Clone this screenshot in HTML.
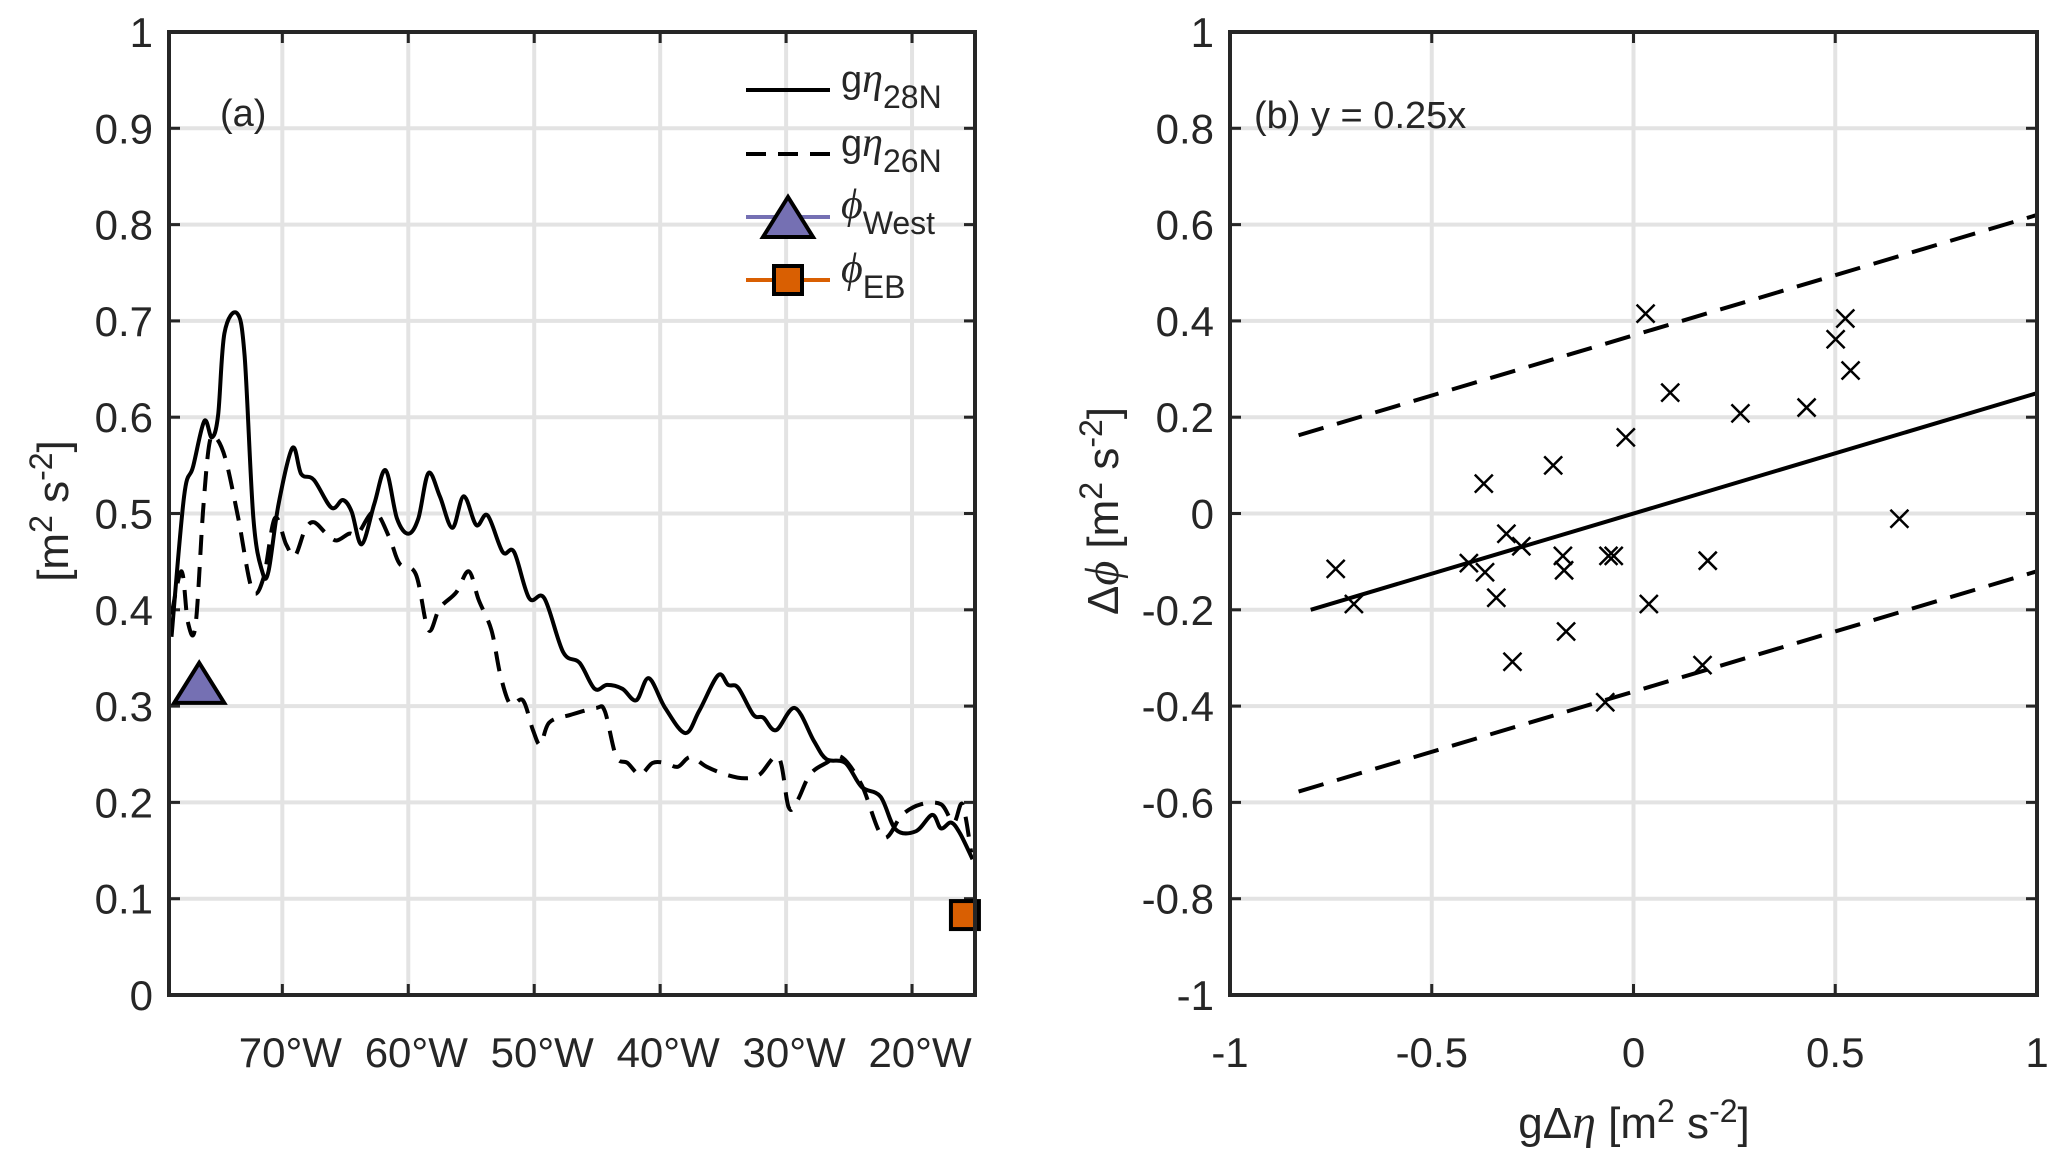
<!DOCTYPE html>
<html><head><meta charset="utf-8"><style>
html,body{margin:0;padding:0;background:#fff}
svg{display:block}
text{font-family:"Liberation Sans",sans-serif;fill:#262626}
</style></head><body>
<svg id="fig" width="2067" height="1162" viewBox="0 0 2067 1162" xmlns="http://www.w3.org/2000/svg">
<g id="pa"></g>
<g id="pb"></g>
</svg>
<script>
// Panel (a) data
const lonSolid=[-78.8,-77.8,-77.1,-76.2,-75.6,-75.1,-74.6,-73.6,-73.0,-72.3,-71.6,-71.1,-70.3,-69.2,-68.5,-67.5,-66.1,-65.2,-64.5,-63.7,-62.7,-61.8,-60.9,-60,-59.2,-58.4,-57.5,-56.5,-55.6,-54.6,-53.7,-52.5,-51.6,-50.4,-49.2,-47.7,-46.4,-45.2,-44.2,-43,-41.9,-40.9,-39.6,-38,-36.9,-35.4,-34.6,-33.8,-32.6,-31.8,-30.8,-29.3,-27.8,-26.8,-25.3,-24,-22.5,-21.3,-19.7,-18.4,-17.7,-16.9,-16.2,-15.2];
const valSolid=[0.372,0.518,0.548,0.596,0.579,0.602,0.687,0.708,0.664,0.495,0.44,0.44,0.51,0.568,0.541,0.535,0.506,0.514,0.502,0.468,0.51,0.545,0.495,0.479,0.495,0.542,0.518,0.485,0.518,0.488,0.498,0.46,0.46,0.412,0.412,0.356,0.345,0.318,0.322,0.318,0.306,0.329,0.298,0.272,0.295,0.332,0.322,0.319,0.291,0.288,0.275,0.298,0.264,0.245,0.241,0.216,0.206,0.172,0.17,0.187,0.173,0.179,0.168,0.141];
const lonDash=[-78.8,-78.0,-77.5,-76.9,-76.3,-75.8,-75.3,-74.5,-73.5,-72.4,-71.5,-70.6,-69.7,-69.0,-68.2,-67.5,-66.5,-65.7,-64.7,-64,-62.7,-61.5,-60.7,-59.4,-58.4,-57.5,-56.2,-55.2,-54.4,-53.4,-52.7,-51.9,-50.9,-50.1,-49.5,-48.8,-47.1,-45.1,-44.4,-43.5,-42.6,-41.6,-40.6,-39.6,-38.6,-37.6,-36.3,-34.8,-33.3,-32.1,-30.6,-29.8,-29.1,-28.1,-26.8,-25.6,-24,-22.3,-20.8,-19.3,-17.7,-16.7,-16,-15.3];
const valDash=[0.395,0.44,0.387,0.383,0.502,0.572,0.579,0.556,0.495,0.421,0.433,0.495,0.468,0.456,0.483,0.491,0.479,0.472,0.479,0.479,0.502,0.475,0.448,0.437,0.379,0.402,0.418,0.44,0.41,0.379,0.333,0.302,0.306,0.275,0.26,0.283,0.291,0.298,0.295,0.248,0.241,0.229,0.241,0.241,0.237,0.247,0.237,0.229,0.225,0.229,0.247,0.195,0.202,0.229,0.241,0.247,0.218,0.164,0.187,0.198,0.198,0.179,0.198,0.148];
const westMarker=[-76.6,0.32];
const ebMarker=[-15.8,0.083];
const aYTicks=[0,0.1,0.2,0.3,0.4,0.5,0.6,0.7,0.8,0.9,1];
const aYLabels=["0","0.1","0.2","0.3","0.4","0.5","0.6","0.7","0.8","0.9","1"];
const aXTicks=[-70,-60,-50,-40,-30,-20];
const aXLabels=["70°W","60°W","50°W","40°W","30°W","20°W"];
// Panel (b) data
const ptX=[0.030,0.501,0.525,0.538,0.091,0.265,0.429,-0.019,-0.199,-0.371,0.659,-0.738,-0.693,-0.408,-0.368,-0.315,-0.278,-0.340,-0.175,-0.172,-0.167,-0.300,-0.062,-0.049,0.038,0.184,0.171,-0.070];
const ptY=[0.415,0.362,0.405,0.297,0.251,0.208,0.22,0.158,0.1,0.062,-0.011,-0.115,-0.188,-0.103,-0.122,-0.042,-0.068,-0.175,-0.088,-0.118,-0.245,-0.308,-0.088,-0.088,-0.188,-0.098,-0.315,-0.392];
const fitSlope=0.25, fitBand=0.37;
const fitRange=[-0.8,1], bandRange=[-0.83,1];
const bTicksX=[-1,-0.5,0,0.5,1], bLabelsX=["-1","-0.5","0","0.5","1"];
const bTicksY=[-1,-0.8,-0.6,-0.4,-0.2,0,0.2,0.4,0.6,0.8,1];
const bLabelsY=["-1","-0.8","-0.6","-0.4","-0.2","0","0.2","0.4","0.6","0.8","1"];

const NS="http://www.w3.org/2000/svg";
function mk(p,t,a){const e=document.createElementNS(NS,t);for(const k in a)e.setAttribute(k,a[k]);p.appendChild(e);return e;}
const AX="#262626",GR="#e3e3e3",TF=42;

// ---------- Panel A ----------
const pa=document.getElementById('pa');
const A={x0:169,x1:975,y0:995,y1:32,lo:-79,hi:-15};
const ax=v=>A.x0+(v-A.lo)/(A.hi-A.lo)*(A.x1-A.x0);
const ay=v=>A.y0-v*(A.y0-A.y1);
aYTicks.forEach((t,i)=>{
 const g=mk(pa,'line',{x1:A.x0,x2:A.x1,y1:ay(t),y2:ay(t),stroke:GR,'stroke-width':4});
 
 
 const tx=mk(pa,'text',{x:A.x0-16,y:ay(t)+15,'font-size':TF,'text-anchor':'end'});
 tx.textContent=aYLabels[i];
 
 
 mk(pa,'line',{x1:A.x0,x2:A.x0+11,y1:ay(t),y2:ay(t),stroke:AX,'stroke-width':3});
 mk(pa,'line',{x1:A.x1,x2:A.x1-11,y1:ay(t),y2:ay(t),stroke:AX,'stroke-width':3});
});
aXTicks.forEach((t,i)=>{
 const g=mk(pa,'line',{x1:ax(t),x2:ax(t),y1:A.y0,y2:A.y1,stroke:GR,'stroke-width':4});
 
 
 const tx=mk(pa,'text',{x:ax(t)+8,y:1067,'font-size':TF,'text-anchor':'middle'});
 tx.textContent=aXLabels[i];
 
 
 mk(pa,'line',{x1:ax(t),x2:ax(t),y1:A.y0,y2:A.y0-11,stroke:AX,'stroke-width':3});
 mk(pa,'line',{x1:ax(t),x2:ax(t),y1:A.y1,y2:A.y1+11,stroke:AX,'stroke-width':3});
});
function smoothPath(xs,ys,fx,fy){
 const P=xs.map((x,i)=>[fx(x),fy(ys[i])]);
 let d='M'+P[0][0].toFixed(1)+','+P[0][1].toFixed(1);
 for(let i=0;i<P.length-1;i++){
  const p0=P[i-1]||P[i],p1=P[i],p2=P[i+1],p3=P[i+2]||P[i+1];
  const c1=[p1[0]+(p2[0]-p0[0])/6,p1[1]+(p2[1]-p0[1])/6];
  const c2=[p2[0]-(p3[0]-p1[0])/6,p2[1]-(p3[1]-p1[1])/6];
  d+=`C${c1[0].toFixed(1)},${c1[1].toFixed(1)} ${c2[0].toFixed(1)},${c2[1].toFixed(1)} ${p2[0].toFixed(1)},${p2[1].toFixed(1)}`;
 }
 return d;
}
const sl=mk(pa,'path',{d:smoothPath(lonSolid,valSolid,ax,ay),fill:'none',stroke:'#000','stroke-width':4,'stroke-linejoin':'round'});


const dl=mk(pa,'path',{d:smoothPath(lonDash,valDash,ax,ay),fill:'none',stroke:'#000','stroke-width':4,'stroke-dasharray':'20 12'});


function tri(p,cx,cy){return mk(p,'polygon',{points:`${cx},${cy-24} ${cx-25},${cy+16} ${cx+25},${cy+16}`,fill:'#7570b3',stroke:'#000','stroke-width':4,'stroke-linejoin':'miter'});}
function sq(p,cx,cy){return mk(p,'rect',{x:cx-14,y:cy-14,width:28,height:28,fill:'#d95f02',stroke:'#000','stroke-width':4});}
const wm=tri(pa,ax(westMarker[0]),ay(westMarker[1]));


const em=sq(pa,ax(ebMarker[0]),ay(ebMarker[1]));


const ba=mk(pa,'rect',{x:A.x0,y:A.y1,width:A.x1-A.x0,height:A.y0-A.y1,fill:'none',stroke:AX,'stroke-width':4});



// legend
const lg=mk(pa,'g',{});


mk(lg,'line',{x1:746,x2:830,y1:90,y2:90,stroke:'#000','stroke-width':4});
mk(lg,'line',{x1:746,x2:830,y1:154,y2:154,stroke:'#000','stroke-width':4,'stroke-dasharray':'20 12'});
mk(lg,'line',{x1:746,x2:830,y1:217,y2:217,stroke:'#7570b3','stroke-width':4});
tri(lg,788,221);
mk(lg,'line',{x1:746,x2:830,y1:280,y2:280,stroke:'#d95f02','stroke-width':4});
sq(lg,788,280);
const labs=[['g','η','28N',100],['g','η','26N',164],['','ϕ','West',226],['','ϕ','EB',290]];
labs.forEach(l=>{
 const t=mk(lg,'text',{x:841,y:l[3]-8,'font-size':38});
 t.innerHTML=`${l[0]}<tspan font-family="Liberation Serif" font-style="italic" font-size="42">${l[1]}</tspan><tspan dy="16" font-size="32">${l[2]}</tspan>`;
 
 
});
const ta=mk(pa,'text',{x:220,y:126,'font-size':38});ta.textContent='(a)';


const yl=mk(pa,'text',{x:0,y:0,'font-size':44,'text-anchor':'middle',transform:'translate(68,511) rotate(-90)'});
yl.innerHTML='[m<tspan dy="-16" font-size="32">2</tspan><tspan dy="16"> s</tspan><tspan dy="-16" font-size="32">-2</tspan><tspan dy="16">]</tspan>';



// ---------- Panel B ----------
const pb=document.getElementById('pb');
const B={x0:1230,x1:2037,y0:995,y1:32};
const bx=v=>B.x0+(v+1)/2*(B.x1-B.x0);
const by=v=>B.y0-(v+1)/2*(B.y0-B.y1);
bTicksY.forEach((t,i)=>{
 const g=mk(pb,'line',{x1:B.x0,x2:B.x1,y1:by(t),y2:by(t),stroke:GR,'stroke-width':4});
 
 
 const tx=mk(pb,'text',{x:B.x0-16,y:by(t)+15,'font-size':TF,'text-anchor':'end'});
 tx.textContent=bLabelsY[i];
 
 
 mk(pb,'line',{x1:B.x0,x2:B.x0+11,y1:by(t),y2:by(t),stroke:AX,'stroke-width':3});
 mk(pb,'line',{x1:B.x1,x2:B.x1-11,y1:by(t),y2:by(t),stroke:AX,'stroke-width':3});
});
bTicksX.forEach((t,i)=>{
 const g=mk(pb,'line',{x1:bx(t),x2:bx(t),y1:B.y0,y2:B.y1,stroke:GR,'stroke-width':4});
 
 
 const tx=mk(pb,'text',{x:bx(t),y:1067,'font-size':TF,'text-anchor':'middle'});
 tx.textContent=bLabelsX[i];
 
 
 mk(pb,'line',{x1:bx(t),x2:bx(t),y1:B.y0,y2:B.y0-11,stroke:AX,'stroke-width':3});
 mk(pb,'line',{x1:bx(t),x2:bx(t),y1:B.y1,y2:B.y1+11,stroke:AX,'stroke-width':3});
});
const fl=mk(pb,'line',{x1:bx(fitRange[0]),y1:by(fitSlope*fitRange[0]),x2:bx(fitRange[1]),y2:by(fitSlope*fitRange[1]),stroke:'#000','stroke-width':4});


[fitBand,-fitBand].forEach(o=>{
 const d=mk(pb,'line',{x1:bx(bandRange[0]),y1:by(fitSlope*bandRange[0]+o),x2:bx(bandRange[1]),y2:by(fitSlope*bandRange[1]+o),stroke:'#000','stroke-width':4,'stroke-dasharray':'26 14'});
 
 
});
ptX.forEach((x,i)=>{
 const cx=bx(x),cy=by(ptY[i]),s=9;
 const p=mk(pb,'path',{d:`M${cx-s},${cy-s}L${cx+s},${cy+s}M${cx-s},${cy+s}L${cx+s},${cy-s}`,stroke:'#000','stroke-width':2.5,fill:'none'});
 
 
});
const bb=mk(pb,'rect',{x:B.x0,y:B.y1,width:B.x1-B.x0,height:B.y0-B.y1,fill:'none',stroke:AX,'stroke-width':4});


const tb=mk(pb,'text',{x:1254,y:128,'font-size':38});tb.textContent='(b) y = 0.25x';


const ylb=mk(pb,'text',{x:0,y:0,'font-size':44,'text-anchor':'middle',transform:'translate(1118,511) rotate(-90)'});
ylb.innerHTML='Δ<tspan font-family="Liberation Serif" font-style="italic" font-size="48">ϕ</tspan> [m<tspan dy="-16" font-size="32">2</tspan><tspan dy="16"> s</tspan><tspan dy="-16" font-size="32">-2</tspan><tspan dy="16">]</tspan>';


const xlb=mk(pb,'text',{x:1634,y:1138,'font-size':44,'text-anchor':'middle'});
xlb.innerHTML='gΔ<tspan font-family="Liberation Serif" font-style="italic" font-size="48">η</tspan> [m<tspan dy="-16" font-size="32">2</tspan><tspan dy="16"> s</tspan><tspan dy="-16" font-size="32">-2</tspan><tspan dy="16">]</tspan>';


</script>
</body></html>
